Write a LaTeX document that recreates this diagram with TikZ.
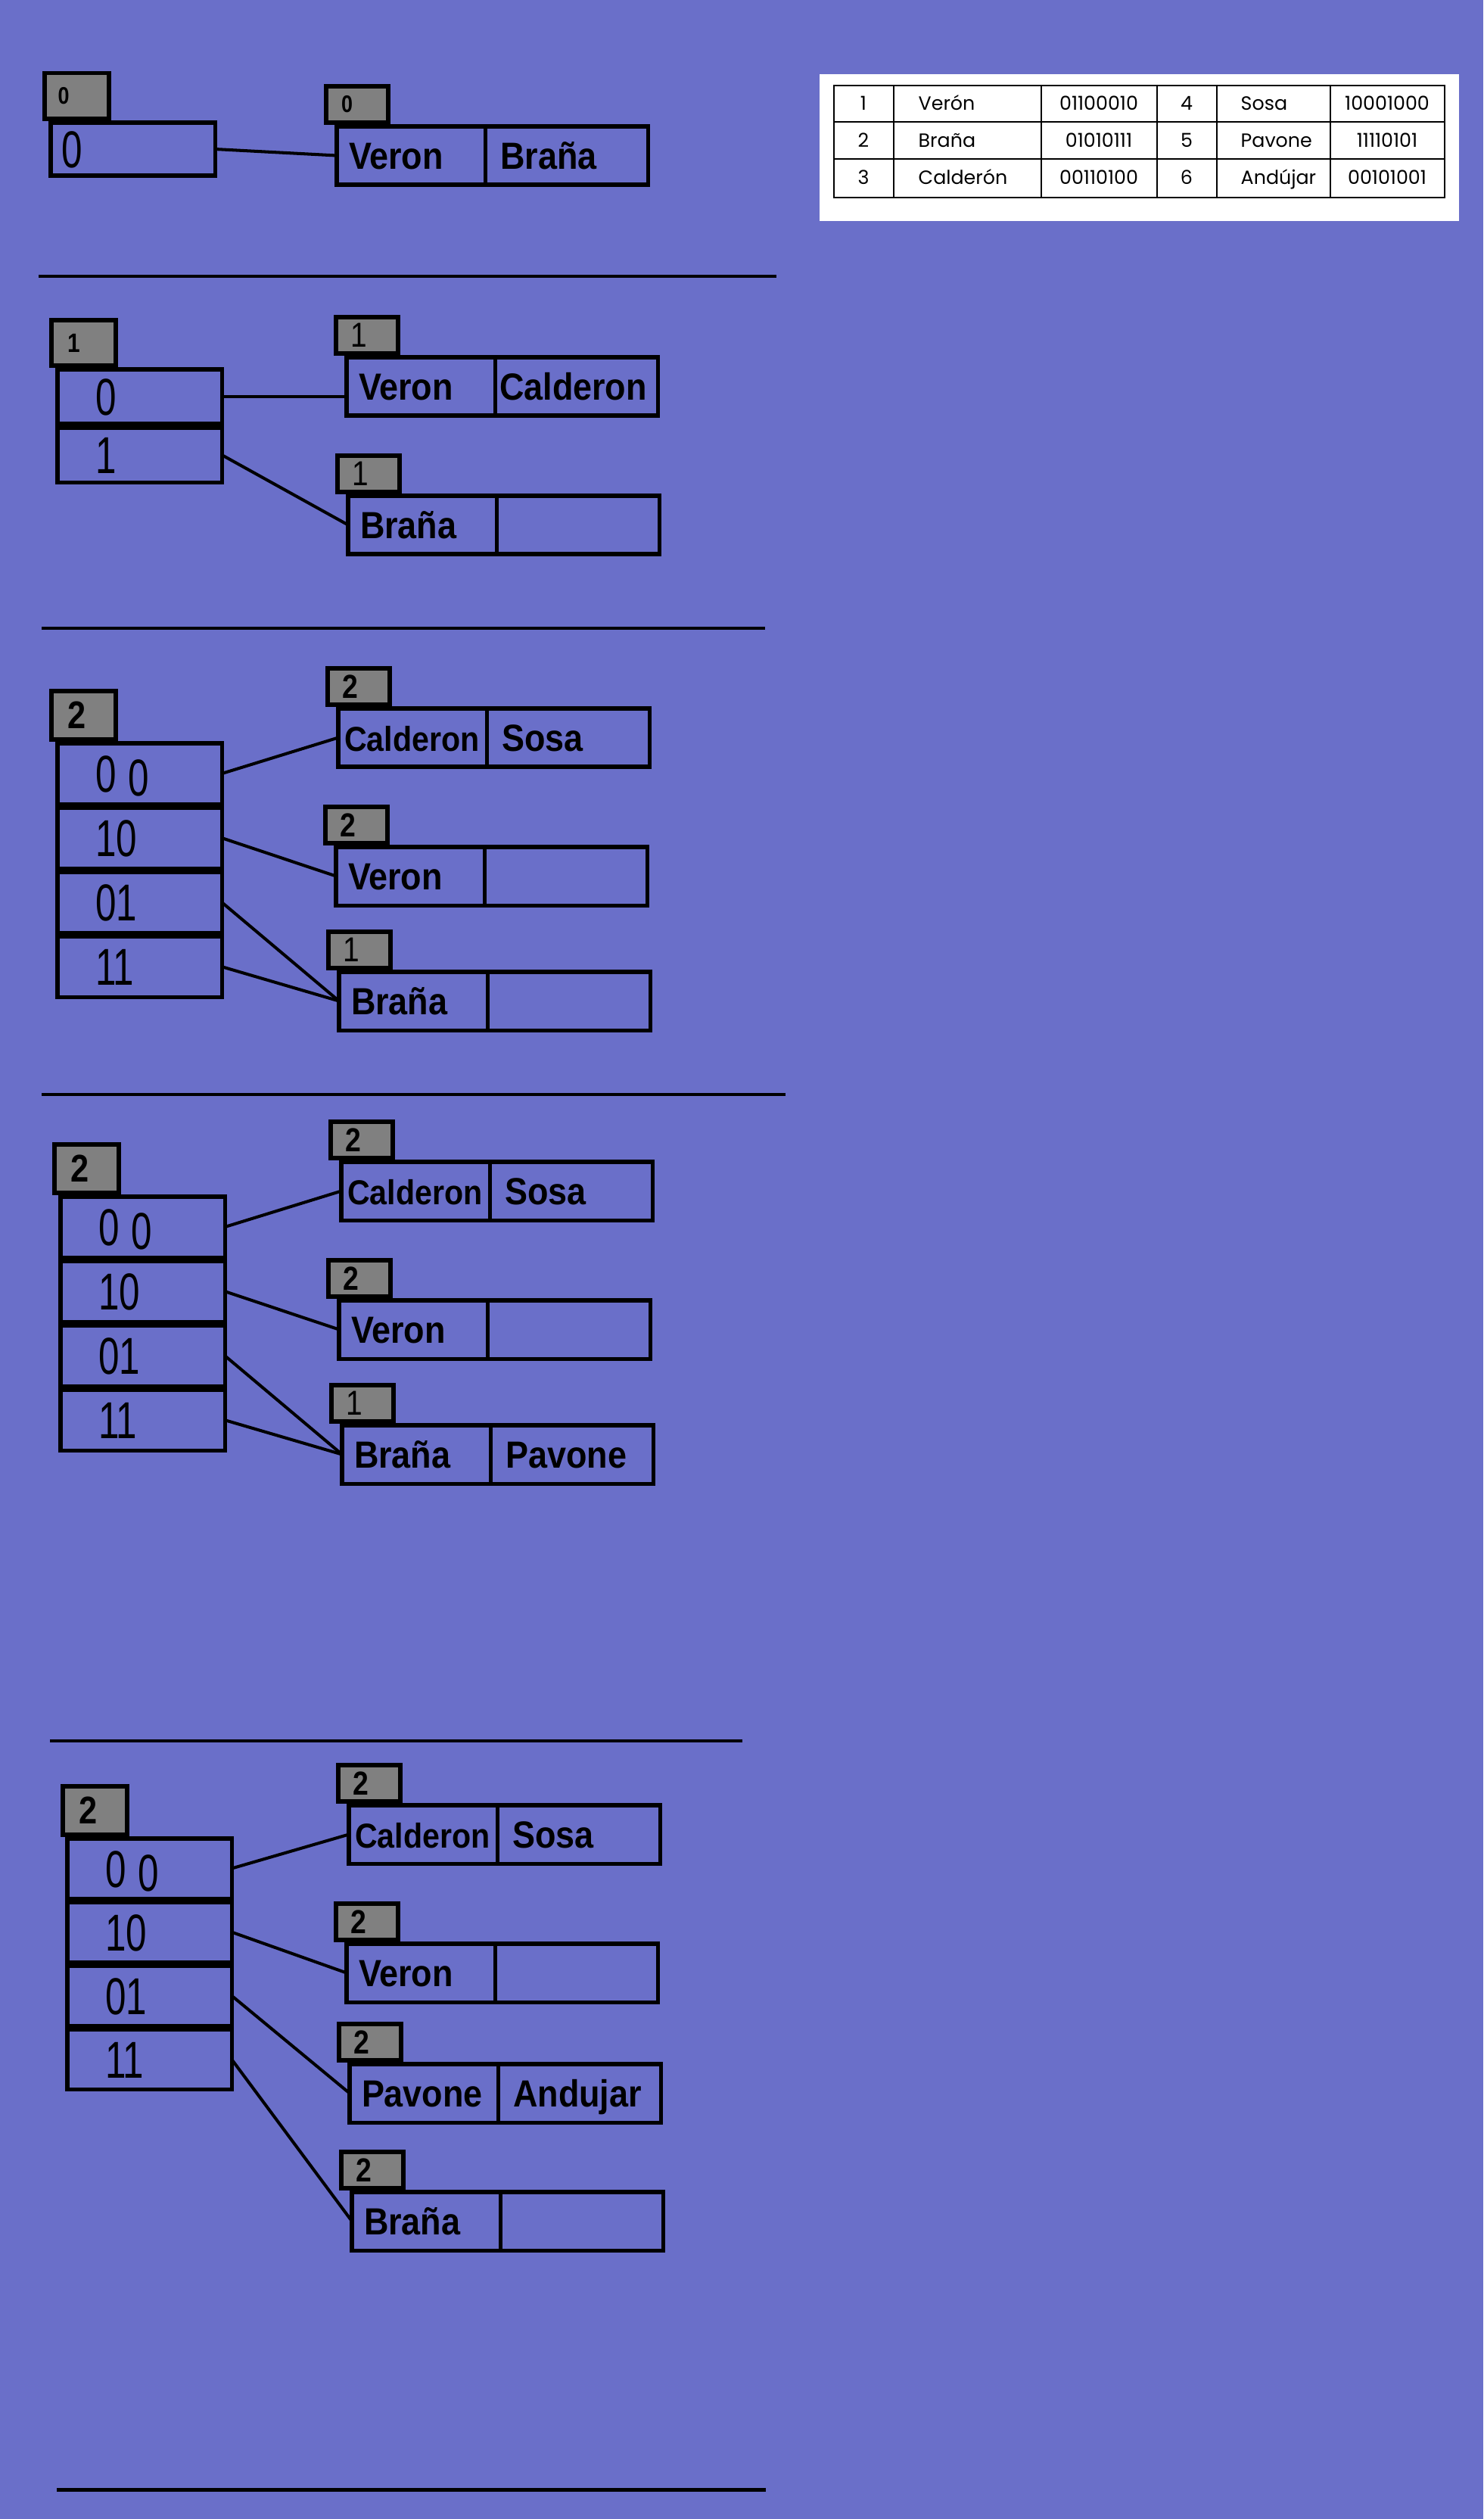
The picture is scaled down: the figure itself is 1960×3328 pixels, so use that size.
\documentclass[tikz,border=0pt]{standalone}
\usepackage{fontspec}
\usepackage{graphicx}
\setmainfont{Liberation Sans}
\newfontfamily\tabfont{Poppins}
\usetikzlibrary{positioning,calc}
\definecolor{bgblue}{RGB}{106,111,201}
\definecolor{depthgray}{RGB}{128,128,128}
\newcommand{\nm}[1]{\scalebox{0.9}[1]{#1}}
\newcommand{\dg}[1]{\scalebox{0.72}[1]{#1}}
\newcommand{\lb}[1]{\scalebox{0.85}[1]{#1}}
\tikzstyle{dircell} = [draw, line width=1.45pt, rectangle, outer sep=0pt, inner sep=0pt, minimum width=2.17cm, minimum height=0.8cm, text width=1.17cm, align=left, text height=0.49cm, text depth=0pt, font=\fontsize{19.5}{20}\selectfont]
\tikzstyle{leftcell} = [draw, line width=1.45pt, rectangle, outer sep=0pt, inner sep=0pt, minimum width=1.96cm, minimum height=0.77cm, text width=1.64cm, align=left, text height=0.36cm, text depth=0pt, font=\fontsize{14.2}{15}\selectfont\bfseries]
\tikzstyle{rightcell} = [leftcell, minimum width=2.15cm, text width=1.75cm]
\tikzstyle{smallname} = [font=\fontsize{13}{14}\selectfont\bfseries, text width=1.8cm]
\tikzstyle{depthbox} = [draw, fill=depthgray, line width=1.45pt, rectangle, outer sep=0pt, inner sep=0pt, minimum width=0.82cm, minimum height=0.48cm, text width=0.44cm, align=left, font=\fontsize{12.5}{13}\selectfont\bfseries]
\tikzstyle{dirdepth} = [depthbox, minimum width=0.85cm, minimum height=0.64cm, text width=0.43cm, font=\fontsize{14.5}{15}\selectfont\bfseries]
\tikzstyle{thinlabel} = [font=\fontsize{13}{14}\selectfont]
\tikzstyle{link} = [line width=1.15pt]
\tikzstyle{sepline} = [line width=1.4pt]
\tikzstyle{tabtext} = [inner sep=0pt, text height=0.18cm, text depth=0pt, font=\tabfont\fontsize{7.2}{8}\selectfont]

\begin{document}
\begin{tikzpicture}[x=0.01cm, y=-0.01cm]
    \fill[bgblue] (0,0) rectangle (1960,3328);
    \useasboundingbox (0,0) rectangle (1960,3328);

    % Table of keys
    \fill[white] (1083,98) rectangle (1928,292);
    \draw[line width=0.8pt] (1102,113) rectangle (1909,261);
    \foreach \y in {161,210} \draw[line width=0.6pt] (1102,\y) -- (1909,\y);
    \foreach \x in {1181,1376,1529,1608,1758} \draw[line width=0.6pt] (\x,113) -- (\x,261);
    \foreach \ia/\na/\ca/\ib/\nb/\cb [count=\i] in {1/Verón/01100010/4/Sosa/10001000, 2/Braña/01010111/5/Pavone/11110101, 3/Calderón/00110100/6/Andújar/00101001} {
        \node[tabtext] (tnum\i) at (1141,{88+49*\i}) {\ia};
        \node[tabtext, anchor=west] (tname\i) at (1213,{88+49*\i}) {\na};
        \node[tabtext] (tcode\i) at (1452,{88+49*\i}) {\ca};
        \node[tabtext] (tnumb\i) at (1568,{88+49*\i}) {\ib};
        \node[tabtext, anchor=west] (tnameb\i) at (1639,{88+49*\i}) {\nb};
        \node[tabtext] (tcodeb\i) at (1833,{88+49*\i}) {\cb};
    }

    % Stage 0
    \node[dircell, anchor=north west, minimum height=0.7cm, text width=1.89cm] (dirA0) at (67,162) {\dg{0}};
    \node[dirdepth, anchor=south west, minimum height=0.6cm, text width=0.5cm, font=\fontsize{9}{10}\selectfont\bfseries] (depA) at ([xshift=-0.08cm, yshift=0.05cm]dirA0.north west) {\lb{0}};
    \node[leftcell, anchor=north west] (bktA1l) at (445,167) {\nm{Veron}};
    \node[rightcell, right=0pt of bktA1l] (bktA1r) {\nm{Braña}};
    \node[depthbox, anchor=south west, text width=0.42cm, font=\fontsize{9}{10}\selectfont\bfseries] (depA1) at ([xshift=-0.14cm, yshift=0.05cm]bktA1l.north west) {\lb{0}};
    \draw[link] (dirA0.east) -- (bktA1l.west);
    \draw[sepline] (51,365) -- (1026,365);

    % Stage 1
    \node[dircell, anchor=north west, minimum height=0.72cm] (dirB0) at (76,488) {\dg{0}};
    \node[dircell, minimum height=0.72cm, below=0.05cm of dirB0] (dirB1) {\dg{1}};
    \node[dirdepth, anchor=south west, minimum height=0.6cm, font=\fontsize{10}{11}\selectfont\bfseries] (depB) at ([xshift=-0.08cm, yshift=0.05cm]dirB0.north west) {\lb{1}};
    \node[leftcell, anchor=north west] (bktB1l) at (458,472) {\nm{Veron}};
    \node[rightcell, right=0pt of bktB1l, text width=2.03cm] (bktB1r) {\nm{Calderon}};
    \node[depthbox, thinlabel, anchor=south west] (depB1) at ([xshift=-0.14cm, yshift=0.05cm]bktB1l.north west) {\lb{1}};
    \node[leftcell, anchor=north west] (bktB2l) at (460,655) {\nm{Braña}};
    \node[rightcell, right=0pt of bktB2l] (bktB2r) {};
    \node[depthbox, thinlabel, anchor=south west] (depB2) at ([xshift=-0.14cm, yshift=0.05cm]bktB2l.north west) {\lb{1}};
    \draw[link] (dirB0.east) -- (dirB0.east -| bktB1l.west);
    \draw[link] (dirB1.east) -- (bktB2l.west);
    \draw[sepline] (55,830) -- (1011,830);

    % Stage 2
    \node[dircell, anchor=north west] (dirC0) at (76,982) {\dg{0 \raisebox{-0.05cm}{0}}};
    \node[dircell, below=0.05cm of dirC0] (dirC1) {\dg{10}};
    \node[dircell, below=0.05cm of dirC1] (dirC2) {\dg{01}};
    \node[dircell, below=0.05cm of dirC2] (dirC3) {\dg{11}};
    \node[dirdepth, anchor=south west] (depC) at ([xshift=-0.08cm, yshift=0.05cm]dirC0.north west) {\lb{2}};
    \node[leftcell, smallname, anchor=north west] (bktC1l) at (447,936) {\nm{Calderon}};
    \node[rightcell, right=0pt of bktC1l] (bktC1r) {\nm{Sosa}};
    \node[depthbox, anchor=south west] (depC1) at ([xshift=-0.14cm, yshift=0.05cm]bktC1l.north west) {\lb{2}};
    \node[leftcell, anchor=north west] (bktC2l) at (444,1119) {\nm{Veron}};
    \node[rightcell, right=0pt of bktC2l] (bktC2r) {};
    \node[depthbox, anchor=south west] (depC2) at ([xshift=-0.14cm, yshift=0.05cm]bktC2l.north west) {\lb{2}};
    \node[leftcell, anchor=north west] (bktC3l) at (448,1284) {\nm{Braña}};
    \node[rightcell, right=0pt of bktC3l] (bktC3r) {};
    \node[depthbox, thinlabel, anchor=south west] (depC3) at ([xshift=-0.14cm, yshift=0.05cm]bktC3l.north west) {\lb{1}};
    \draw[link] (dirC0.east) -- (bktC1l.west);
    \draw[link] (dirC1.east) -- (bktC2l.west);
    \draw[link] (dirC2.east) -- (bktC3l.west);
    \draw[link] (dirC3.east) -- (bktC3l.west);
    \draw[sepline] (55,1446) -- (1038,1446);

    % Stage 3
    \node[dircell, anchor=north west] (dirD0) at (80,1581) {\dg{0 \raisebox{-0.05cm}{0}}};
    \node[dircell, below=0.05cm of dirD0] (dirD1) {\dg{10}};
    \node[dircell, below=0.05cm of dirD1] (dirD2) {\dg{01}};
    \node[dircell, below=0.05cm of dirD2] (dirD3) {\dg{11}};
    \node[dirdepth, anchor=south west] (depD) at ([xshift=-0.08cm, yshift=0.05cm]dirD0.north west) {\lb{2}};
    \node[leftcell, smallname, anchor=north west] (bktD1l) at (451,1535) {\nm{Calderon}};
    \node[rightcell, right=0pt of bktD1l] (bktD1r) {\nm{Sosa}};
    \node[depthbox, anchor=south west] (depD1) at ([xshift=-0.14cm, yshift=0.05cm]bktD1l.north west) {\lb{2}};
    \node[leftcell, anchor=north west] (bktD2l) at (448,1718) {\nm{Veron}};
    \node[rightcell, right=0pt of bktD2l] (bktD2r) {};
    \node[depthbox, anchor=south west] (depD2) at ([xshift=-0.14cm, yshift=0.05cm]bktD2l.north west) {\lb{2}};
    \node[leftcell, anchor=north west] (bktD3l) at (452,1883) {\nm{Braña}};
    \node[rightcell, right=0pt of bktD3l] (bktD3r) {\nm{Pavone}};
    \node[depthbox, thinlabel, anchor=south west] (depD3) at ([xshift=-0.14cm, yshift=0.05cm]bktD3l.north west) {\lb{1}};
    \draw[link] (dirD0.east) -- (bktD1l.west);
    \draw[link] (dirD1.east) -- (bktD2l.west);
    \draw[link] (dirD2.east) -- (bktD3l.west);
    \draw[link] (dirD3.east) -- (bktD3l.west);
    \draw[sepline] (66,2300) -- (981,2300);

    % Stage 4
    \node[dircell, anchor=north west, minimum height=0.79cm] (dirE0) at (89,2429) {\dg{0 \raisebox{-0.05cm}{0}}};
    \node[dircell, minimum height=0.79cm, below=0.05cm of dirE0] (dirE1) {\dg{10}};
    \node[dircell, minimum height=0.79cm, below=0.05cm of dirE1] (dirE2) {\dg{01}};
    \node[dircell, minimum height=0.79cm, below=0.05cm of dirE2] (dirE3) {\dg{11}};
    \node[dirdepth, anchor=south west] (depE) at ([xshift=-0.06cm, yshift=0.05cm]dirE0.north west) {\lb{2}};
    \node[leftcell, smallname, anchor=north west] (bktE1l) at (461,2385) {\nm{Calderon}};
    \node[rightcell, right=0pt of bktE1l] (bktE1r) {\nm{Sosa}};
    \node[depthbox, anchor=south west] (depE1) at ([xshift=-0.14cm, yshift=0.05cm]bktE1l.north west) {\lb{2}};
    \node[leftcell, anchor=north west] (bktE2l) at (458,2568) {\nm{Veron}};
    \node[rightcell, right=0pt of bktE2l] (bktE2r) {};
    \node[depthbox, anchor=south west] (depE2) at ([xshift=-0.14cm, yshift=0.05cm]bktE2l.north west) {\lb{2}};
    \node[leftcell, anchor=north west] (bktE3l) at (462,2727) {\nm{Pavone}};
    \node[rightcell, right=0pt of bktE3l] (bktE3r) {\nm{Andujar}};
    \node[depthbox, anchor=south west] (depE3) at ([xshift=-0.14cm, yshift=0.05cm]bktE3l.north west) {\lb{2}};
    \node[leftcell, anchor=north west] (bktE4l) at (465,2896) {\nm{Braña}};
    \node[rightcell, right=0pt of bktE4l] (bktE4r) {};
    \node[depthbox, anchor=south west] (depE4) at ([xshift=-0.14cm, yshift=0.05cm]bktE4l.north west) {\lb{2}};
    \draw[link] (dirE0.east) -- (bktE1l.west);
    \draw[link] (dirE1.east) -- (bktE2l.west);
    \draw[link] (dirE2.east) -- (bktE3l.west);
    \draw[link] (dirE3.east) -- (bktE4l.west);
    \draw[sepline] (75,3289) -- (1012,3289);
\end{tikzpicture}
\end{document}
